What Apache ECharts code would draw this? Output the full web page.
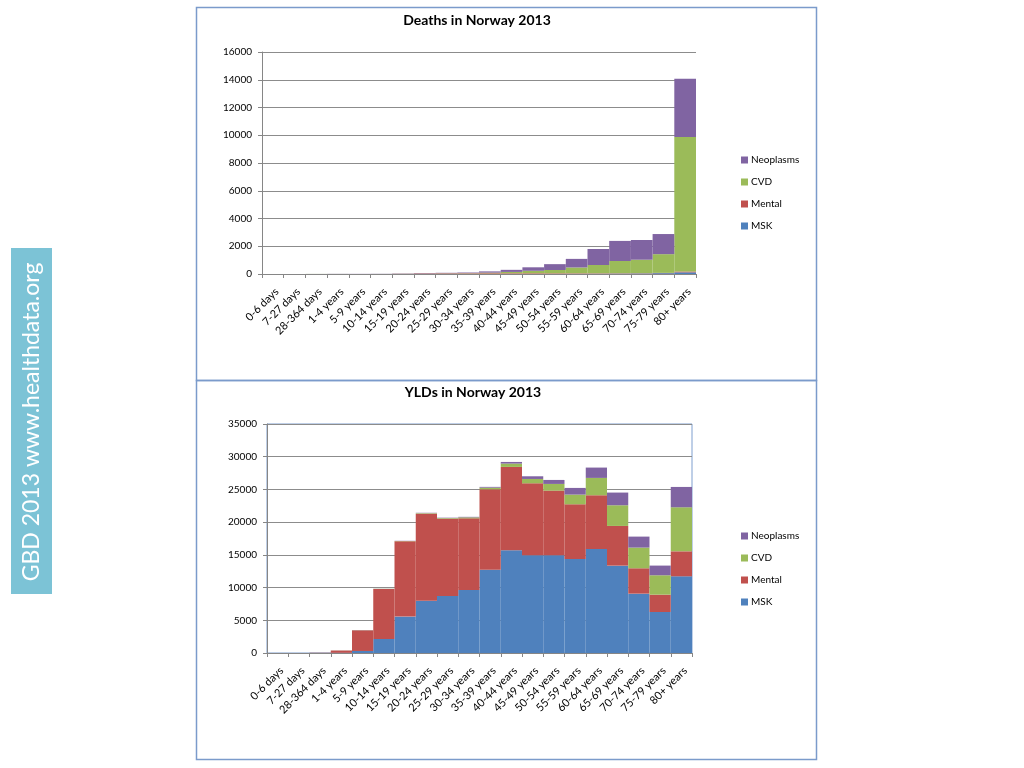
<!DOCTYPE html>
<html>
<head>
<meta charset="utf-8">
<script src="https://cdn.jsdelivr.net/npm/echarts@6/dist/echarts.min.js"></script>
<style>
html,body{margin:0;padding:0;background:#fff;}
#chart{width:1024px;height:768px;}
</style>
</head>
<body>
<div id="chart"></div>
<script>
var categories = ['0-6 days','7-27 days','28-364 days','1-4 years','5-9 years','10-14 years','15-19 years','20-24 years','25-29 years','30-34 years','35-39 years','40-44 years','45-49 years','50-54 years','55-59 years','60-64 years','65-69 years','70-74 years','75-79 years','80+ years'];

var deathsNeoplasms = [0,0,3,10,10,12,20,25,30,45,90,150,250,420,620,1150,1450,1420,1450,4200];
var deathsCVD       = [2,1,5,3,2,3,8,10,15,20,45,100,180,240,420,600,880,970,1350,9700];
var deathsMental    = [0,0,0,0,0,0,10,35,40,40,50,45,45,40,35,30,25,20,20,60];
var deathsMSK       = [0,0,0,0,0,0,1,1,1,2,3,5,8,10,15,20,30,40,60,120];

var yldNeoplasms = [0,0,5,10,20,20,30,50,60,80,120,250,410,610,1020,1580,1940,1680,1480,3110];
var yldCVD       = [0,0,5,10,20,30,40,80,100,150,250,510,660,1020,1480,2650,3160,3160,2960,6730];
var yldMental    = [0,0,30,350,3160,7650,11520,13300,11800,10950,12280,12740,11010,9870,8360,8210,6070,3880,2650,3820];
var yldMSK       = [0,0,10,30,310,2140,5560,8000,8720,9630,12740,15700,14930,14950,14370,15900,13350,9070,6270,11720];

var deathsTicks = [0,2000,4000,6000,8000,10000,12000,14000,16000];
var yldTicks = [0,5000,10000,15000,20000,25000,30000,35000];

var titles = ['Deaths in Norway 2013','YLDs in Norway 2013'];
var seriesNames = ['Neoplasms','CVD','Mental','MSK'];
var sideText = 'GBD 2013 www.healthdata.org';

var colors = {MSK:'#4f81bd', Mental:'#c0504d', CVD:'#9bbb59', Neoplasms:'#8064a2'};
var FONT = 'Lato, "Open Sans", sans-serif';

var chart = echarts.init(document.getElementById('chart'));

function makeSeries(gi, msk, mental, cvd, neo) {
  var list = [['MSK',msk],['Mental',mental],['CVD',cvd],['Neoplasms',neo]];
  return list.map(function(p){
    return {
      name: p[0], type: 'bar', stack: 's' + gi,
      xAxisIndex: gi, yAxisIndex: gi,
      barCategoryGap: '0%', barGap: '0%',
      itemStyle: {color: colors[p[0]]},
      data: p[1], animation: false
    };
  });
}

function xAx(gi) {
  return {
    type: 'category', gridIndex: gi, data: categories,
    axisLine: {lineStyle: {color: '#868686'}},
    axisTick: {show: true, alignWithLabel: false, length: 4, lineStyle: {color: '#868686'}},
    axisLabel: {interval: 0, rotate: 45, fontSize: 11, color: '#000', fontFamily: FONT, margin: 12,
      align: 'right', verticalAlign: 'top'}
  };
}
function yAx(gi, ticks) {
  return {
    type: 'value', gridIndex: gi, min: ticks[0], max: ticks[ticks.length-1],
    interval: ticks[1]-ticks[0],
    axisLine: {show: true, lineStyle: {color: '#868686'}},
    axisTick: {show: true, length: 4, lineStyle: {color: '#868686'}},
    axisLabel: {fontSize: 10, color: '#000', fontFamily: FONT, margin: 10,
      formatter: function(v){ return String(v); }},
    splitLine: {show: true, lineStyle: {color: '#8c8c8c', width: 1}}
  };
}
function legend(top) {
  return {
    orient: 'vertical', left: 741, top: top,
    data: seriesNames,
    icon: 'rect', itemWidth: 7, itemHeight: 7, itemGap: 10,
    textStyle: {fontSize: 10, color: '#000', fontFamily: FONT, lineHeight: 12, padding: [0,0,0,-2]},
    padding: 0, selectedMode: false
  };
}

var option = {
  animation: false,
  backgroundColor: '#fff',
  grid: [
    {left: 262, width: 434, top: 52, height: 222, show: false},
    {left: 267, width: 425, top: 424, height: 229, show: true, borderColor: '#7f9fcf', borderWidth: 1, backgroundColor: 'transparent'}
  ],
  xAxis: [xAx(0), xAx(1)],
  yAxis: [yAx(0, deathsTicks), yAx(1, yldTicks)],
  legend: [legend(154), legend(530)],
  series: makeSeries(0, deathsMSK, deathsMental, deathsCVD, deathsNeoplasms)
    .concat(makeSeries(1, yldMSK, yldMental, yldCVD, yldNeoplasms)),
  graphic: [
    {type: 'rect', shape: {x: 196.5, y: 7.5, width: 620, height: 373}, style: {fill: 'none', stroke: '#7b9bcb', lineWidth: 1.5}, silent: true, z: 100},
    {type: 'rect', shape: {x: 196.5, y: 380.5, width: 620, height: 379}, style: {fill: 'none', stroke: '#7b9bcb', lineWidth: 1.5}, silent: true, z: 100},
    {type: 'rect', shape: {x: 11, y: 248, width: 41, height: 346}, style: {fill: '#7cc3d6'}, silent: true},
    {type: 'text', x: 32, y: 422, rotation: Math.PI/2,
      style: {text: sideText, fill: '#fff', font: '23px ' + FONT, textAlign: 'center', textVerticalAlign: 'middle'}, silent: true},
    {type: 'text', x: 477, y: 20,
      style: {text: titles[0], fill: '#000', font: 'bold 14px ' + FONT, textAlign: 'center', textVerticalAlign: 'middle'}, silent: true},
    {type: 'text', x: 473, y: 392,
      style: {text: titles[1], fill: '#000', font: 'bold 14px ' + FONT, textAlign: 'center', textVerticalAlign: 'middle'}, silent: true}
  ]
};
chart.setOption(option);
</script>
</body>
</html>
